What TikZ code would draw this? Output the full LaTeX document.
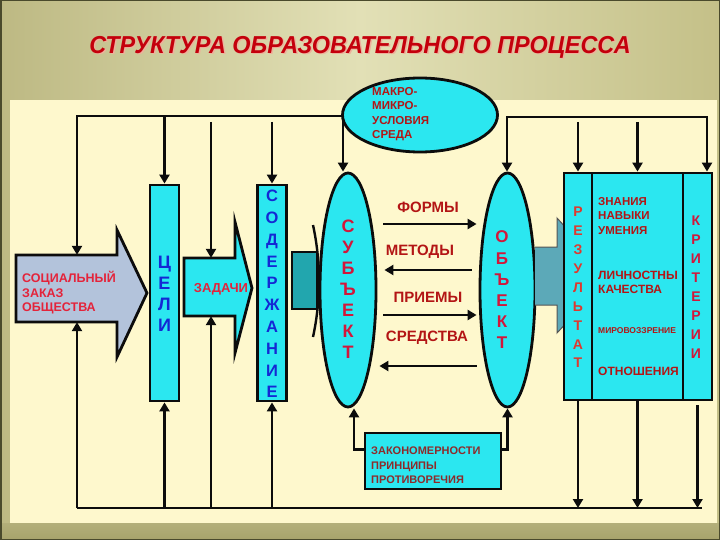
\documentclass[tikz,border=0pt]{standalone}
\usepackage{fontspec}
\setmainfont{Liberation Sans}
\usetikzlibrary{shapes.geometric,arrows.meta}
\definecolor{bgL}{HTML}{BDB983}
\definecolor{bgM}{HTML}{E2E0B6}
\definecolor{bgR}{HTML}{C4C088}
\definecolor{bgB}{HTML}{A7A36B}
\definecolor{frameC}{HTML}{4A4A2C}
\definecolor{cream}{HTML}{FEF8CD}
\definecolor{cy}{HTML}{2BE7F0}
\definecolor{tealA}{HTML}{22A6AE}
\definecolor{tealB}{HTML}{5CA9B8}
\definecolor{socf}{HTML}{B3C3DB}
\definecolor{titler}{HTML}{C4000C}
\definecolor{titles}{HTML}{EDB29C}
\definecolor{redA}{HTML}{E4233A}
\definecolor{redB}{HTML}{B31515}
\definecolor{redC}{HTML}{D3163A}
\definecolor{redD}{HTML}{E0382E}
\definecolor{brn}{HTML}{8E2A2A}
\definecolor{blu}{HTML}{1428D4}
\definecolor{ink}{HTML}{0C0C0C}
\begin{document}
\begin{tikzpicture}[x=1pt,y=-1pt,
  >={Triangle[length=9pt,width=10pt]},
  conn/.style={line width=2.6pt, draw=ink},
  box/.style={draw=ink, line width=2.8pt, fill=cy, inner sep=0pt},
  ell/.style={ellipse, draw=ink, line width=2.8pt, fill=cy, inner sep=0pt},
  vlet/.style={align=center, inner sep=0pt},
  lbl/.style={align=left, inner sep=0pt, anchor=west},
  mid/.style={align=center, inner sep=0pt, text=redB, font=\bfseries\fontsize{15}{18}\selectfont},
  ttl/.style={inner sep=0pt, font=\bfseries\itshape\fontsize{24.5}{28}\selectfont}
]
\useasboundingbox (0,0) rectangle (720,540);
% background
\shade[left color=bgL, right color=bgR, middle color=bgM] (0,0) rectangle (720,540);
\shade[top color=bgB!80!bgM, bottom color=bgB] (0,523) rectangle (720,540);
\fill[cream] (10,100) rectangle (717,523);
\draw[frameC, line width=1.5pt] (0.75,0.75) rectangle (719.25,539.25);

% title
\node[ttl, text=titles] (titleshadow) at (361.5,48.5) {\scalebox{0.955}[1]{СТРУКТУРА ОБРАЗОВАТЕЛЬНОГО ПРОЦЕССА}};
\node[ttl, text=titler] (title) at (360,47) {\scalebox{0.955}[1]{СТРУКТУРА ОБРАЗОВАТЕЛЬНОГО ПРОЦЕССА}};

% social order block arrow
\draw[fill=socf, draw=ink, line width=2.8pt, line join=miter]
  (16,255) -- (117,255) -- (117,230) -- (147,293) -- (117,357) -- (117,322) -- (16,322) -- cycle;
\node[minimum width=101pt, minimum height=67pt, inner sep=0pt] (soc) at (66.5,288.5) {};
\node[lbl, text=redA, font=\bfseries\fontsize{12.5}{14.5}\selectfont] (soctext) at (22,293) {СОЦИАЛЬНЫЙ\\ЗАКАЗ\\ОБЩЕСТВА};

% ЦЕЛИ
\node[box, minimum width=29pt, minimum height=216pt] (celi) at (164.5,293) {};
\node[vlet, text=blu, font=\bfseries\fontsize{18}{21}\selectfont] (celitext) at (164.5,293.5) {Ц\\Е\\Л\\И};

% ЗАДАЧИ block arrow
\draw[fill=cy, draw=ink, line width=2.8pt, line join=miter]
  (184,258) -- (235,258) -- (235,222) -- (252,288) -- (235,353) -- (235,316) -- (184,316) -- cycle;
\node[minimum width=51pt, minimum height=58pt, inner sep=0pt] (zad) at (211,287) {};
\node[inner sep=0pt, text=redA, font=\bfseries\fontsize{13}{15}\selectfont] (zadtext) at (221,289) {ЗАДАЧИ};

% СОДЕРЖАНИЕ
\node[box, minimum width=29pt, minimum height=216pt] (soder) at (272,293) {};
\node[vlet, text=blu, font=\bfseries\fontsize{16.5}{21.8}\selectfont] (sodertext) at (272,294) {С\\О\\Д\\Е\\Р\\Ж\\А\\Н\\И\\Е};

% teal block toward subject
\draw[fill=tealA, draw=ink, line width=2.4pt] (292,252) rectangle (317,309);
\draw[ink, line width=2.4pt] (313,225) .. controls (321,262) and (321,300) .. (313,337);

% subject / object ellipses
\node[ell, minimum width=56pt, minimum height=234pt] (subj) at (348,290) {};
\node[vlet, text=redC, font=\bfseries\fontsize{18}{21}\selectfont] (subjtext) at (348,289) {С\\У\\Б\\Ъ\\Е\\К\\Т};
\node[ell, minimum width=55pt, minimum height=234pt] (obj) at (507.5,290) {};
\node[vlet, text=redC, font=\bfseries\fontsize{17}{21.2}\selectfont] (objtext) at (502,290) {О\\Б\\Ъ\\Е\\К\\Т};

% teal block toward result
\draw[fill=tealB, draw=ink!70, line width=1pt, line join=miter]
  (535,247) -- (557,247) -- (557,218) -- (610,276) -- (557,333) -- (557,305) -- (535,305);

% result boxes
\node[box, minimum width=28pt, minimum height=227pt] (res) at (578,286.5) {};
\node[box, minimum width=91pt, minimum height=227pt] (midc) at (637.5,286.5) {};
\node[box, minimum width=29pt, minimum height=227pt] (crit) at (697.5,286.5) {};
\node[vlet, text=redD, font=\bfseries\fontsize{14}{18.9}\selectfont] (restext) at (578,287.5) {Р\\Е\\З\\У\\Л\\Ь\\Т\\А\\Т};
\node[vlet, text=redC, font=\bfseries\fontsize{14}{19}\selectfont] (crittext) at (696,287.5) {К\\Р\\И\\Т\\Е\\Р\\И\\И};
\node[lbl, text=redB, font=\bfseries\fontsize{11.5}{14.5}\selectfont] (t1) at (598,216) {ЗНАНИЯ\\НАВЫКИ\\УМЕНИЯ};
\node[lbl, text=redB, font=\bfseries\fontsize{12}{14}\selectfont] (t2) at (598,282) {ЛИЧНОСТНЫ\\КАЧЕСТВА};
\node[lbl, text=redB, font=\bfseries\fontsize{8.5}{10}\selectfont] (t3) at (598,331) {МИРОВОЗЗРЕНИЕ};
\node[lbl, text=redB, font=\bfseries\fontsize{12}{14}\selectfont] (t4) at (598,371) {ОТНОШЕНИЯ};

% macro ellipse
\node[ell, minimum width=155pt, minimum height=74pt] (macro) at (420,115) {};
\node[lbl, text=redB, font=\bfseries\fontsize{11.5}{14.3}\selectfont] (macrotext) at (372,114) {МАКРО-\\МИКРО-\\УСЛОВИЯ\\СРЕДА};

% laws box
\node[box, minimum width=136pt, minimum height=56pt] (zak) at (433,461) {};
\node[lbl, text=brn, font=\bfseries\fontsize{11}{14.5}\selectfont] (zaktext) at (371,465.5) {ЗАКОНОМЕРНОСТИ\\ПРИНЦИПЫ\\ПРОТИВОРЕЧИЯ};

% labels between subject and object
\node[mid] (formy) at (428,207) {ФОРМЫ};
\node[mid] (metody) at (420,252) {МЕТОДЫ};
\node[mid] (priemy) at (428,297) {ПРИЕМЫ};
\node[mid] (sredstva) at (427,338) {СРЕДСТВА};

% bus coordinates
\coordinate (TL) at (77,116);
\coordinate (TM) at (343,116);
\coordinate (BL) at (77,508);
\coordinate (BR) at (702,508);
\coordinate (RTL) at (507,117);
\coordinate (RTR) at (707,117);
\coordinate (gapT) at (0,122);
\coordinate (gapB) at (0,405);
\coordinate (Ya) at (0,224);
\coordinate (Yb) at (0,270);
\coordinate (Yc) at (0,315);
\coordinate (Yd) at (0,366);

% top-left bus
\draw[conn,<->] (soc.north -| TL) |- (TM) -- (subj.north -| TM);
\draw[conn,->] (celi.north |- TL) -- (celi.north);
\draw[conn,->] (zad.north |- gapT) -- (zad.north);
\draw[conn,->] (soder.north |- gapT) -- (soder.north);

% top-right bus
\draw[conn,<->] (obj.north -| RTL) |- (RTR) -- (crit.north -| RTR);
\draw[conn,->] (res.north |- gapT) -- (res.north);
\draw[conn,->] (midc.north |- gapT) -- (midc.north);

% bottom bus
\draw[conn] (BL) -- (BR);
\draw[conn,->] (BL) -- (soc.south -| BL);
\draw[conn,->] (celi.south |- BL) -- (celi.south);
\draw[conn,->] (zad.south |- BL) -- (zad.south);
\draw[conn,->] (soder.south |- BL) -- (soder.south);
\draw[conn,->] (res.south) -- (res.south |- BL);
\draw[conn,->] (midc.south) -- (midc.south |- BL);
\draw[conn,->] (crit.south |- gapB) -- (crit.south |- BL);

% laws connectors
\draw[conn,->] ([yshift=-18pt]zak.north west) -| ([xshift=6pt]subj.south);
\draw[conn,->] ([yshift=-18pt]zak.north east) -| (obj.south);

% subject-object arrows
\draw[conn,->] ([xshift=6pt]subj.east |- Ya) -- ([xshift=-2pt]obj.west |- Ya);
\draw[conn,->] ([xshift=-7pt]obj.west |- Yb) -- ([xshift=7pt]subj.east |- Yb);
\draw[conn,->] ([xshift=6pt]subj.east |- Yc) -- ([xshift=-2pt]obj.west |- Yc);
\draw[conn,->] ([xshift=-2pt]obj.west |- Yd) -- ([xshift=2pt]subj.east |- Yd);
\end{tikzpicture}
\end{document}
